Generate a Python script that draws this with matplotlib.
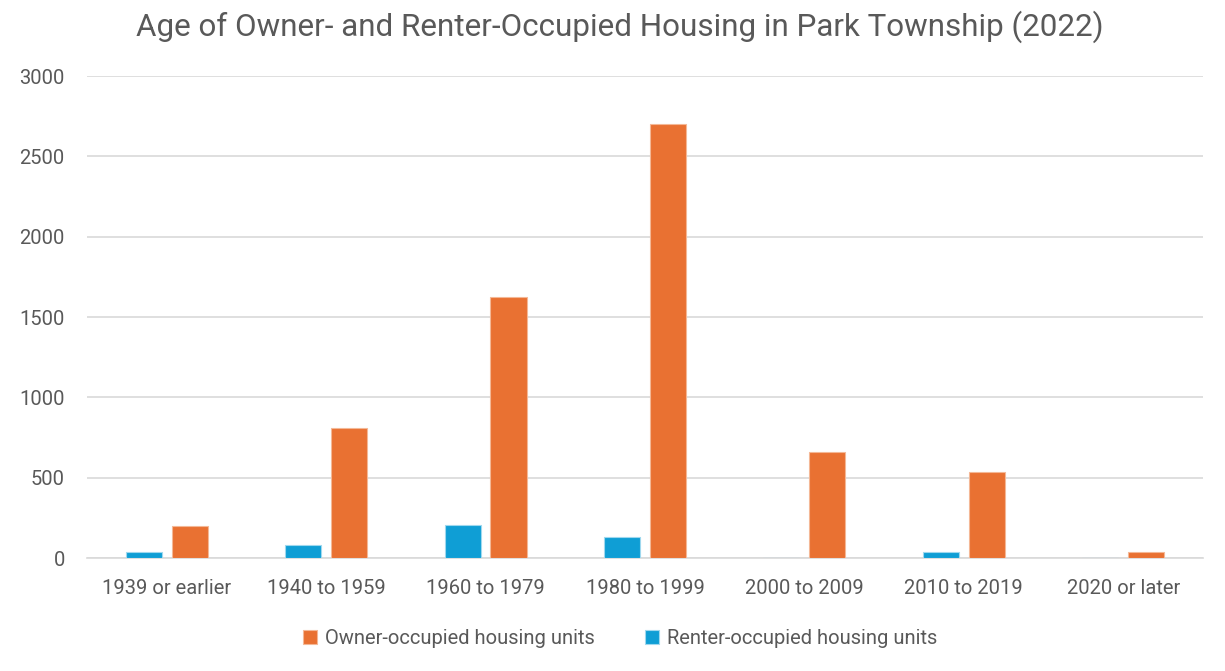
import matplotlib
matplotlib.use("Agg")
import matplotlib.pyplot as plt
import numpy as np

categories = ["1939 or earlier", "1940 to 1959", "1960 to 1979", "1980 to 1999",
              "2000 to 2009", "2010 to 2019", "2020 or later"]
owner_units = [198, 810, 1623, 2702, 659, 535, 36]
renter_units = [37, 81, 205, 129, 0, 37, 0]
y_ticks = [0, 500, 1000, 1500, 2000, 2500, 3000]

ORANGE = "#E97132"
BLUE = "#0F9ED5"
TEXT = "#595959"
GRID = "#D9D9D9"

plt.rcParams["font.family"] = ["Roboto", "DejaVu Sans"]

fig = plt.figure(figsize=(12.25, 6.71), dpi=100)
ax = fig.add_axes([0.071, 0.1684, 0.911, 0.7183])

x = np.arange(len(categories))
w = 0.226
off = 0.144
ax.bar(x - off, renter_units, w, color=BLUE, edgecolor="#9fd8ee", linewidth=0.8,
       label="Renter-occupied housing units", zorder=3)
ax.bar(x + off, owner_units, w, color=ORANGE, edgecolor="#f4b896", linewidth=0.8,
       label="Owner-occupied housing units", zorder=3)

ax.set_xlim(-0.5, len(categories) - 0.5)
ax.set_ylim(0, 3000)
ax.set_yticks(y_ticks)
ax.set_yticklabels([str(v) for v in y_ticks])
ax.set_xticks(x)
ax.set_xticklabels(categories)
ax.tick_params(axis="both", length=0, labelsize=14.5, colors=TEXT)
ax.tick_params(axis="y", pad=16)
ax.tick_params(axis="x", pad=15)
ax.yaxis.grid(True, color=GRID, linewidth=1.2, zorder=0)
for s in ["top", "right", "left"]:
    ax.spines[s].set_visible(False)
ax.spines["bottom"].set_color(GRID)
ax.spines["bottom"].set_linewidth(1.2)

fig.suptitle("Age of Owner- and Renter-Occupied Housing in Park Township (2022)",
             x=0.506, y=0.985, fontsize=22.6, color=TEXT)

handles, labels = ax.get_legend_handles_labels()
fig.legend(handles[::-1], labels[::-1], loc="center", bbox_to_anchor=(0.506, 0.049),
           ncol=2, frameon=False, fontsize=14.5, labelcolor=TEXT,
           handlelength=0.7, handleheight=0.7, handletextpad=0.4, columnspacing=2.5)

fig.savefig("out.png", dpi=100, facecolor="white")
